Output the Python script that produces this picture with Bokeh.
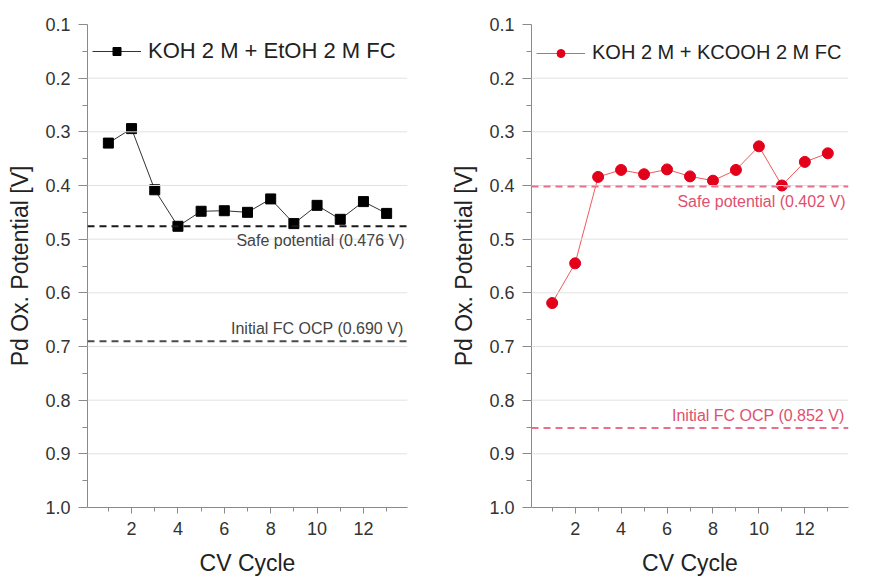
from bokeh.plotting import figure
from bokeh.models import (Range1d, FixedTicker, PrintfTickFormatter, Span, Label,
                          Legend, LegendItem)
from bokeh.layouts import row
from bokeh.embed import file_html
from bokeh.resources import INLINE

# ---- data ----
cycles = [1, 2, 3, 4, 5, 6, 7, 8, 9, 10, 11, 12, 13]
etoh_potential = [0.321, 0.294, 0.408, 0.476, 0.448, 0.447, 0.450, 0.425, 0.471, 0.437, 0.463, 0.430, 0.452]
kcooh_potential = [0.619, 0.545, 0.384, 0.371, 0.379, 0.370, 0.383, 0.391, 0.371, 0.327, 0.400, 0.356, 0.340]
etoh_label = "KOH 2 M + EtOH 2 M FC"
kcooh_label = "KOH 2 M + KCOOH 2 M FC"
etoh_safe = 0.476
etoh_ocp = 0.690
kcooh_safe = 0.402
kcooh_ocp = 0.852
y_ticks = [0.1, 0.2, 0.3, 0.4, 0.5, 0.6, 0.7, 0.8, 0.9, 1.0]
y_minor = [0.15, 0.25, 0.35, 0.45, 0.55, 0.65, 0.75, 0.85, 0.95]
x_ticks = [2, 4, 6, 8, 10, 12]
x_minor = [1, 3, 5, 7, 9, 11, 13]
grid_values = [0.2, 0.3, 0.4, 0.5, 0.6, 0.7, 0.8, 0.9]

FONT = "Liberation Sans"
X_MIN, X_MAX = 0.1, 13.9


def make_panel(width, border_left, border_right, values, label, marker, mcolor,
               lcolor, safe, ocp, safe_color, ocp_color, text_color, msize,
               safe_txt, ocp_txt, legend_font):
    p = figure(width=width, height=579, output_backend="svg", toolbar_location=None,
               x_range=Range1d(X_MIN, X_MAX), y_range=Range1d(1.0, 0.1),
               min_border_left=border_left, min_border_right=border_right,
               min_border_top=24, min_border_bottom=72)
    p.outline_line_color = None
    p.xgrid.visible = False
    p.ygrid.visible = False
    p.background_fill_color = "white"

    for g in grid_values:
        p.add_layout(Span(location=g, dimension="width", line_color="#e2e2e2", line_width=1))

    for ax in (p.xaxis[0], p.yaxis[0]):
        ax.axis_line_color = "#8a8a8a"
        ax.major_tick_line_color = "#8a8a8a"
        ax.minor_tick_line_color = "#8a8a8a"
        ax.major_tick_in = 0
        ax.minor_tick_in = 0
        ax.major_label_text_font = FONT
        ax.major_label_text_font_size = "18px"
        ax.major_label_text_color = "#333333"
        ax.axis_label_text_font = FONT
        ax.axis_label_text_font_style = "normal"
        ax.axis_label_text_font_size = "23px"
        ax.axis_label_text_color = "#222222"

    p.yaxis.ticker = FixedTicker(ticks=y_ticks, minor_ticks=y_minor)
    p.yaxis.formatter = PrintfTickFormatter(format="%.1f")
    p.yaxis.major_tick_out = 9
    p.yaxis.minor_tick_out = 5
    p.yaxis.major_label_standoff = 8
    p.yaxis.axis_label = "Pd Ox. Potential [V]"
    p.yaxis.axis_label_standoff = 9

    p.xaxis.ticker = FixedTicker(ticks=x_ticks, minor_ticks=x_minor)
    p.xaxis.major_tick_out = 6
    p.xaxis.minor_tick_out = 4
    p.xaxis.major_label_standoff = 8
    p.xaxis.axis_label = "CV Cycle"
    p.xaxis.axis_label_standoff = 12

    p.add_layout(Span(location=safe, dimension="width", line_color=safe_color,
                      line_width=2, line_dash="7 5"))
    p.add_layout(Span(location=ocp, dimension="width", line_color=ocp_color,
                      line_width=2, line_dash="7 5"))

    ln = p.line(cycles, values, line_color=lcolor, line_width=1)
    sc = p.scatter(cycles, values, marker=marker, size=msize, fill_color=mcolor,
                   line_color=mcolor)

    p.add_layout(Label(x=X_MAX, y=safe, text=safe_txt, text_align="right",
                       text_baseline="top", x_offset=-3, y_offset=-6,
                       text_font=FONT, text_font_size="16px", text_color=text_color))
    p.add_layout(Label(x=X_MAX, y=ocp, text=ocp_txt, text_align="right",
                       text_baseline="bottom", x_offset=-4, y_offset=4,
                       text_font=FONT, text_font_size="16px", text_color=text_color))

    legend = Legend(items=[LegendItem(label=label, renderers=[ln, sc])],
                    location=(5, 443), padding=0, margin=0, spacing=0,
                    glyph_width=49, glyph_height=20, label_height=20,
                    label_standoff=7, border_line_color=None,
                    background_fill_alpha=0.0,
                    label_text_font=FONT, label_text_font_size=legend_font,
                    label_text_color="#222222")
    p.add_layout(legend)
    return p


p1 = make_panel(448, 87, 41, etoh_potential, etoh_label, "square", "black", "#333333",
                etoh_safe, etoh_ocp, "#1a1a1a", "#4a4a4a", "#444444", 10,
                "Safe potential (0.476 V)", "Initial FC OCP (0.690 V)", "22px")
p2 = make_panel(424, 80, 24, kcooh_potential, kcooh_label, "circle", "#e3001b", "#ee5a5a",
                kcooh_safe, kcooh_ocp, "#e8708c", "#e8708c", "#e0506e", 11,
                "Safe potential (0.402 V)", "Initial FC OCP (0.852 V)", "20px")

layout = row(p1, p2)
open("out.html", "w").write(file_html(layout, INLINE))
